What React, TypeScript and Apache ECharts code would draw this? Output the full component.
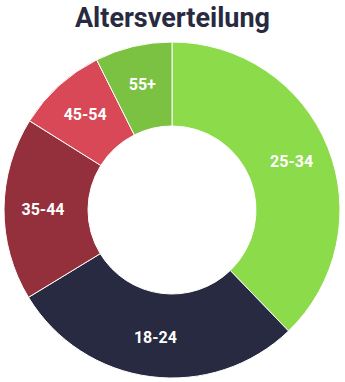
import React, { useEffect, useRef } from "react";
import * as echarts from "echarts";

const titleText = "Altersverteilung";
const categories = ["25-34", "18-24", "35-44", "45-54", "55+"];
const values = [37.8, 28.5, 17.6, 8.7, 7.4];
const colors = ["#8cdb4b", "#272a40", "#94303b", "#d84856", "#7bc142"];

export default function App() {
  const ref = useRef<HTMLDivElement>(null);
  useEffect(() => {
    document.body.style.margin = "0";
    if (!ref.current) return;
    const chart = echarts.init(ref.current, null, { renderer: "svg" });
    chart.setOption({
      animation: false,
      title: {
        text: titleText,
        left: "center",
        top: -1,
        textStyle: {
          fontFamily: "Roboto",
          fontWeight: "bold",
          fontSize: 27,
          color: "#272a40",
        },
      },
      series: [
        {
          type: "pie",
          center: [172, 210],
          radius: [84, 168],
          startAngle: 90,
          clockwise: true,
          itemStyle: { borderColor: "#ffffff", borderWidth: 1 },
          label: {
            show: true,
            position: "inside",
            formatter: "{b}",
            color: "#ffffff",
            fontFamily: "Roboto",
            fontWeight: "bold",
            fontSize: 16,
          },
          labelLine: { show: false },
          emphasis: { disabled: true },
          data: categories.map((c, i) => ({
            name: c,
            value: values[i],
            itemStyle: { color: colors[i] },
          })),
        },
      ],
    });
    return () => chart.dispose();
  }, []);
  return <div ref={ref} style={{ width: 345, height: 382 }} />;
}
